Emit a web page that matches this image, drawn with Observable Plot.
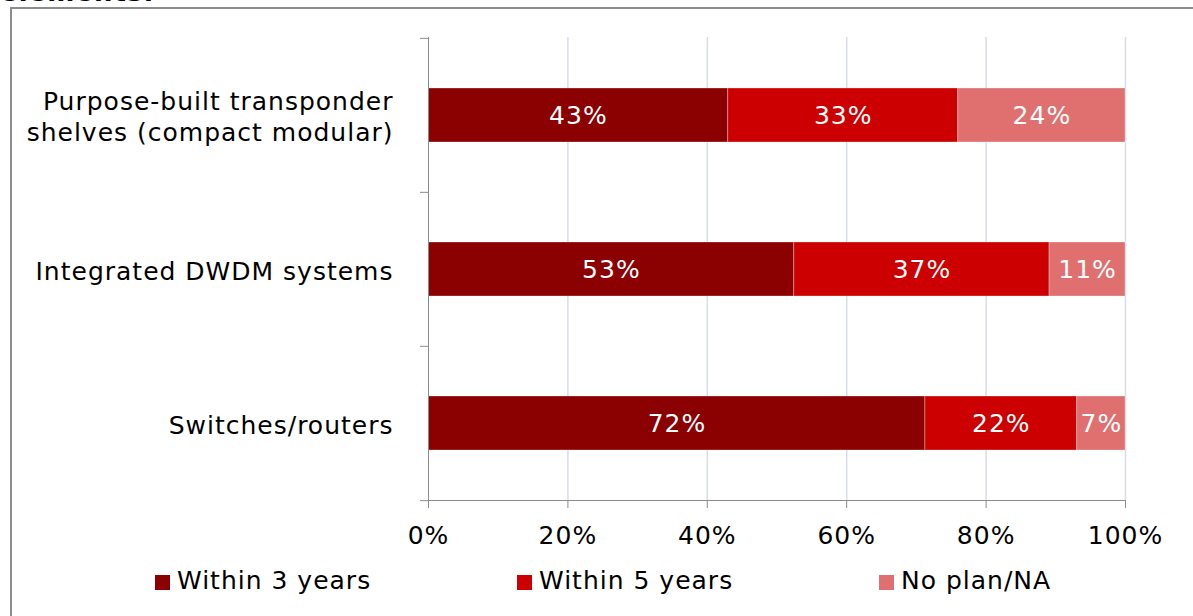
<!DOCTYPE html>
<html>
<head>
<meta charset="utf-8">
<script src="https://cdn.jsdelivr.net/npm/d3@7"></script>
<script src="https://cdn.jsdelivr.net/npm/@observablehq/plot@0.6"></script>
<style>
  html, body { margin: 0; padding: 0; background: #fff; }
  #wrap { position: relative; width: 1193px; height: 616px; overflow: hidden; font-family: "DejaVu Sans", Verdana, sans-serif; }
  #title { position: absolute; left: 0; top: -20px; font-size: 26px; font-weight: bold; line-height: 24px; letter-spacing: 1px; white-space: nowrap; }
  #border { position: absolute; left: 10px; top: 7px; right: -4px; bottom: -4px; border-left: 2px solid #8c8c8c; border-top: 2px solid #8c8c8c; }
  #chart { position: absolute; left: 0; top: 0; }
  #chart svg text { letter-spacing: 1px; }
  #legend { position: absolute; left: 155px; top: 566px; display: grid; grid-template-columns: 362px 362px 300px; font-size: 25px; letter-spacing: 1px; line-height: 30px; }
  .item { display: flex; align-items: center; white-space: nowrap; }
  .swatch { width: 15px; height: 15px; margin-right: 7px; margin-top: 3px; }
</style>
</head>
<body>
<div id="wrap">
  <div id="title">elements:</div>
  <div id="border"></div>
  <div id="chart"></div>
  <div id="legend"></div>
</div>
<script>
// Survey categories, listed top to bottom
const categories = [
  "Purpose-built transponder\nshelves (compact modular)",
  "Integrated DWDM systems",
  "Switches/routers"
];
const seriesNames = ["Within 3 years", "Within 5 years", "No plan/NA"];
const within3Years = [43, 53, 72];
const within5Years = [33, 37, 22];
const noPlanNA = [24, 11, 7];
const seriesColors = ["#8b0000", "#cc0000", "#e07070"];
const xTicks = [0, 0.2, 0.4, 0.6, 0.8, 1];

const seriesValues = [within3Years, within5Years, noPlanNA];
const rows = [];
categories.forEach((category, i) => {
  seriesNames.forEach((series, j) => {
    rows.push({category, series, value: seriesValues[j][i]});
  });
});

const width = 1193, height = 556;
const marginTop = 37, marginBottom = 56, marginLeft = 428, marginRight = 68;
const halfStep = (height - marginTop - marginBottom) / categories.length / 2;
const axisGray = "#8c8c8c";
const pct = d => `${Math.round(d * 100)}%`;

const chart = Plot.plot({
  width, height, marginTop, marginBottom, marginLeft, marginRight,
  style: {fontFamily: "'DejaVu Sans', Verdana, sans-serif", fontSize: "25px", color: "#000", background: "transparent", overflow: "visible"},
  x: {domain: [0, 1], label: null},
  y: {domain: categories, paddingInner: 0.65, paddingOuter: 0.325, label: null},
  color: {domain: seriesNames, range: seriesColors},
  marks: [
    Plot.gridX(xTicks.slice(1), {stroke: "#d8dce6", strokeOpacity: 1, strokeWidth: 1.5}),
    Plot.barX(rows, Plot.stackX({
      x: "value", y: "category", z: "series", fill: "series",
      order: seriesNames, offset: "normalize",
      stroke: "#fff", strokeOpacity: 0.3, strokeWidth: 1
    })),
    Plot.text(rows, Plot.stackX({
      x: "value", y: "category", z: "series",
      order: seriesNames, offset: "normalize",
      text: d => `${d.value}%`, fill: "white"
    })),
    Plot.ruleX([0], {stroke: axisGray}),
    Plot.frame({anchor: "bottom", stroke: axisGray}),
    Plot.axisX({ticks: xTicks, tickFormat: pct, tickSize: 8, tickPadding: 18, stroke: axisGray, label: null}),
    Plot.axisY({tickSize: 0, tickPadding: 35, lineHeight: 1.25, label: null}),
    Plot.axisY({text: null, tickSize: 8, dy: -halfStep, stroke: axisGray, label: null}),
    Plot.axisY(categories.slice(-1), {text: null, tickSize: 8, dy: halfStep, stroke: axisGray, label: null})
  ]
});
document.getElementById("chart").appendChild(chart);

// Legend
const legend = document.getElementById("legend");
seriesNames.forEach((name, i) => {
  const item = document.createElement("div");
  item.className = "item";
  const sw = document.createElement("span");
  sw.className = "swatch";
  sw.style.background = seriesColors[i];
  const label = document.createElement("span");
  label.textContent = name;
  item.append(sw, label);
  legend.appendChild(item);
});
</script>
</body>
</html>
